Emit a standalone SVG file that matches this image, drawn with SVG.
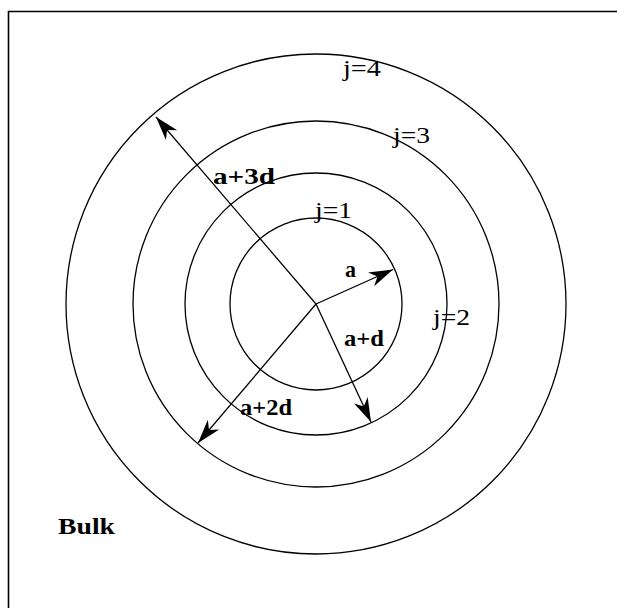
<svg xmlns="http://www.w3.org/2000/svg" width="617" height="608" viewBox="0 0 617 608">
<style>
.ring{fill:none;stroke:#000;stroke-width:1.3}
.arrow{stroke:#000;stroke-width:1.3;fill:none;marker-end:url(#head)}
.j{font-family:"Liberation Serif","Times New Roman",serif;font-size:24px;fill:#000}
.b{font-family:"Liberation Serif","Times New Roman",serif;font-size:23px;font-weight:bold;fill:#000}
</style>
<defs>
<marker id="head" markerUnits="userSpaceOnUse" markerWidth="30" markerHeight="20" viewBox="-25 -10 30 20" refX="0" refY="0" orient="auto">
<path d="M0,0 L-24,-7.5 L-17,0 L-24,7.5 Z" fill="#000"/>
</marker>
</defs>
<rect x="0" y="0" width="617" height="608" fill="#fff"/>
<g id="frame"><path d="M8.5,608 V11.5 H617" fill="none" stroke="#000" stroke-width="1.6"/></g>
<g id="ring1"><circle class="ring" cx="316" cy="304" r="86"/></g>
<g id="ring2"><circle class="ring" cx="316" cy="304" r="131"/></g>
<g id="ring3"><circle class="ring" cx="316" cy="304" r="183"/></g>
<g id="ring4"><circle class="ring" cx="316" cy="304" r="250"/></g>
<g id="connectors">
<line class="arrow" x1="316" y1="304" x2="393" y2="269.5"/>
<line class="arrow" x1="316" y1="304" x2="371" y2="422"/>
<line class="arrow" x1="316" y1="304" x2="198" y2="443"/>
<line class="arrow" x1="316" y1="304" x2="156" y2="117"/>
</g>
<g id="labels">
<text class="j" x="315" y="218" textLength="37" lengthAdjust="spacingAndGlyphs">j=1</text>
<text class="j" x="433" y="325" textLength="37" lengthAdjust="spacingAndGlyphs">j=2</text>
<text class="j" x="393" y="143" textLength="37" lengthAdjust="spacingAndGlyphs">j=3</text>
<text class="j" x="343" y="76" textLength="38" lengthAdjust="spacingAndGlyphs">j=4</text>
<text class="b" x="345" y="277" textLength="11" lengthAdjust="spacingAndGlyphs">a</text>
<text class="b" x="344" y="346" textLength="40" lengthAdjust="spacingAndGlyphs">a+d</text>
<text class="b" x="240" y="415" textLength="52" lengthAdjust="spacingAndGlyphs">a+2d</text>
<text class="b" x="213" y="184" textLength="62" lengthAdjust="spacingAndGlyphs">a+3d</text>
<text class="b" x="58" y="534" font-size="26" textLength="57" lengthAdjust="spacingAndGlyphs">Bulk</text>
</g>
</svg>
